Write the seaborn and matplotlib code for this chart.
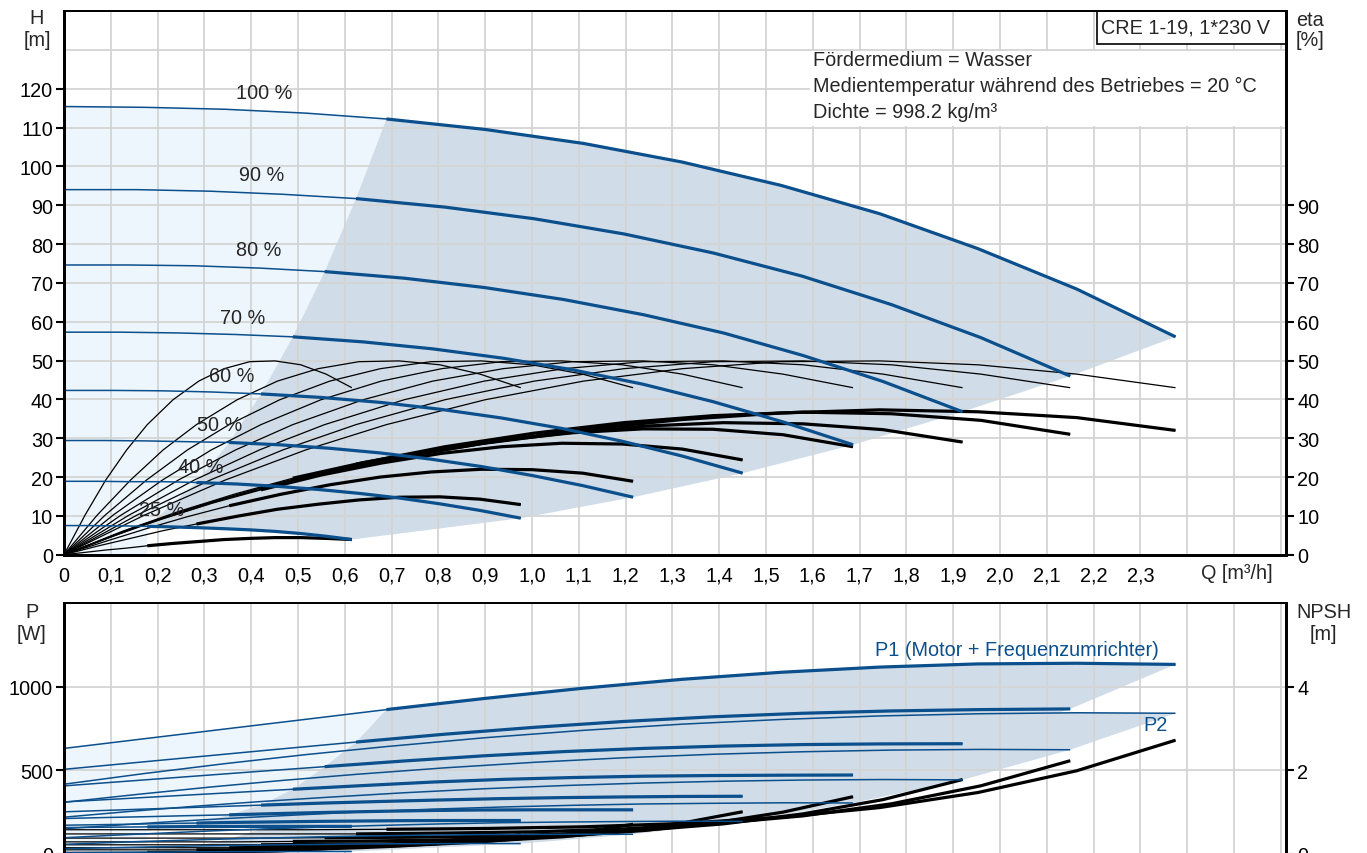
import numpy as np
import pandas as pd
import matplotlib
matplotlib.use('Agg')
import matplotlib.pyplot as plt
import seaborn as sns
from matplotlib.patches import Rectangle

# Drehzahlstufen (Reihenfolge: 100, 90, 80, 70, 60, 50, 40, 25 %)
speed_labels = ['100 %', '90 %', '80 %', '70 %', '60 %', '50 %', '40 %', '25 %']
label_q = [0.427, 0.423, 0.415, 0.382, 0.359, 0.333, 0.291, 0.209]
label_h = [119.0, 97.8, 78.5, 61.1, 46.2, 33.6, 22.8, 11.7]

# Förderstrom Q [m³/h] je Drehzahl
flow = [
    [0, 0.172, 0.344, 0.517, 0.689, 0.900, 1.110, 1.321, 1.532, 1.743, 1.953, 2.164, 2.375],
    [0, 0.156, 0.312, 0.468, 0.624, 0.814, 1.005, 1.196, 1.387, 1.578, 1.768, 1.959, 2.150],
    [0, 0.139, 0.278, 0.418, 0.557, 0.727, 0.898, 1.068, 1.238, 1.409, 1.579, 1.750, 1.920],
    [0, 0.122, 0.244, 0.367, 0.489, 0.639, 0.788, 0.938, 1.087, 1.237, 1.387, 1.536, 1.686],
    [0, 0.105, 0.210, 0.315, 0.421, 0.549, 0.678, 0.807, 0.935, 1.064, 1.193, 1.321, 1.450],
    [0, 0.088, 0.176, 0.264, 0.353, 0.461, 0.568, 0.676, 0.784, 0.892, 1.000, 1.108, 1.216],
    [0, 0.071, 0.142, 0.212, 0.283, 0.370, 0.456, 0.543, 0.630, 0.716, 0.803, 0.889, 0.976],
    [0, 0.045, 0.089, 0.134, 0.178, 0.233, 0.288, 0.342, 0.397, 0.451, 0.506, 0.560, 0.615],
]
# Förderhöhe H [m]
head = [
    [115.4, 115.2, 114.7, 113.7, 112.2, 109.5, 105.9, 101.1, 95.1, 87.8, 78.8, 68.4, 56.1],
    [94.0, 94.0, 93.6, 92.8, 91.7, 89.5, 86.5, 82.6, 77.7, 71.7, 64.4, 55.9, 46.0],
    [74.6, 74.6, 74.4, 73.8, 72.9, 71.2, 68.8, 65.7, 61.8, 57.1, 51.3, 44.6, 36.8],
    [57.3, 57.3, 57.1, 56.7, 56.1, 54.8, 53.0, 50.6, 47.6, 43.9, 39.4, 34.2, 28.3],
    [42.3, 42.3, 42.2, 41.9, 41.4, 40.5, 39.2, 37.4, 35.2, 32.5, 29.2, 25.4, 21.0],
    [29.4, 29.4, 29.3, 29.1, 28.9, 28.3, 27.4, 26.2, 24.6, 22.7, 20.4, 17.8, 14.8],
    [18.9, 18.9, 18.8, 18.8, 18.6, 18.2, 17.6, 16.8, 15.8, 14.6, 13.1, 11.4, 9.4],
    [7.5, 7.5, 7.45, 7.4, 7.3, 7.15, 6.95, 6.7, 6.4, 6.0, 5.45, 4.75, 3.9],
]
# Pumpenwirkungsgrad eta [%] (dünn, schwarz) - gleiche Form für alle Drehzahlen
eta_pump = [0, 10.2, 19.2, 27.0, 33.5, 39.9, 44.7, 47.9, 49.7, 49.9, 48.9, 46.5, 43.0]
# Gesamtwirkungsgrad eta [%] (dick, schwarz)
eta_total = [
    [0, 7.8, 14.4, 19.9, 24.4, 28.8, 32.3, 34.8, 36.5, 37.3, 36.8, 35.3, 32.0],
    [0, 7.3, 13.5, 18.8, 23.3, 27.8, 31.3, 34.0, 35.8, 36.7, 36.3, 34.6, 31.0],
    [0, 6.5, 12.2, 17.1, 21.2, 25.4, 28.7, 31.3, 33.1, 34.0, 33.7, 32.2, 29.0],
    [0, 5.9, 11.1, 15.7, 19.7, 23.7, 26.9, 29.5, 31.4, 32.4, 32.3, 30.9, 27.8],
    [0, 4.8, 9.2, 13.2, 16.7, 20.5, 23.6, 26.1, 27.8, 28.7, 28.5, 27.2, 24.4],
    [0, 3.4, 6.7, 9.8, 12.6, 15.5, 18.0, 20.0, 21.3, 22.0, 21.9, 21.0, 18.9],
    [0, 2.2, 4.2, 6.2, 7.9, 9.9, 11.7, 13.0, 14.1, 14.8, 14.9, 14.3, 12.9],
    [0, 0.6, 1.2, 1.7, 2.3, 2.9, 3.4, 3.9, 4.2, 4.4, 4.4, 4.2, 3.9],
]
# Leistungsaufnahme P1 [W]
power_p1 = [
    [631, 689, 747, 805, 863, 930, 991, 1044, 1086, 1117, 1136, 1140, 1133],
    [506, 547, 588, 629, 669, 716, 757, 792, 820, 841, 855, 863, 867],
    [407, 436, 465, 494, 522, 556, 587, 612, 631, 645, 654, 658, 659],
    [311, 330, 349, 368, 387, 409, 430, 446, 457, 465, 469, 471, 472],
    [252, 262, 272, 282, 292, 304, 314, 323, 331, 337, 341, 344, 345],
    [212, 218, 223, 229, 234, 242, 249, 255, 260, 263, 264, 264, 264],
    [172, 175, 178, 182, 185, 189, 192, 195, 197, 199, 200, 200, 200],
    [158, 159, 160, 161, 162, 163, 164, 164, 165, 165, 165, 165, 165],
]
# Wellenleistung P2 [W]
power_p2 = [
    [417, 481, 540, 594, 642, 695, 739, 776, 804, 825, 838, 844, 841],
    [309, 356, 400, 440, 476, 515, 548, 575, 596, 611, 621, 625, 623],
    [220, 254, 285, 313, 338, 366, 390, 409, 424, 435, 442, 445, 443],
    [151, 174, 196, 215, 232, 252, 268, 281, 291, 299, 303, 306, 305],
    [97, 112, 125, 138, 149, 161, 171, 180, 187, 191, 194, 196, 195],
    [58, 67, 76, 83, 90, 97, 104, 109, 113, 116, 117, 118, 118],
    [31, 36, 40, 44, 48, 51, 55, 57, 60, 61, 62, 63, 62],
    [7, 8, 9, 10, 11, 12, 13, 14, 14, 14, 15, 15, 15],
]
# NPSH [m]
npsh = [
    [0.58, 0.58, 0.58, 0.58, 0.59, 0.61, 0.65, 0.73, 0.88, 1.11, 1.47, 1.99, 2.72],
    [0.48, 0.48, 0.48, 0.48, 0.48, 0.50, 0.53, 0.60, 0.72, 0.91, 1.20, 1.63, 2.23],
    [0.38, 0.38, 0.38, 0.38, 0.39, 0.40, 0.42, 0.48, 0.57, 0.72, 0.96, 1.30, 1.78],
    [0.29, 0.29, 0.29, 0.29, 0.30, 0.31, 0.33, 0.37, 0.44, 0.56, 0.74, 1.00, 1.37],
    [0.22, 0.22, 0.22, 0.22, 0.22, 0.23, 0.24, 0.27, 0.33, 0.41, 0.55, 0.74, 1.01],
    [0.15, 0.15, 0.15, 0.15, 0.15, 0.16, 0.17, 0.19, 0.23, 0.29, 0.39, 0.52, 0.71],
    [0.10, 0.10, 0.10, 0.10, 0.10, 0.10, 0.11, 0.12, 0.15, 0.19, 0.25, 0.34, 0.46],
    [0.04, 0.04, 0.04, 0.04, 0.04, 0.04, 0.04, 0.05, 0.06, 0.07, 0.10, 0.13, 0.18],
]

q_ticks = [round(0.1 * i, 1) for i in range(27)]
q_labels = [('0' if v == 0 else f'{v:.1f}'.replace('.', ',')) if v <= 2.3 else '' for v in q_ticks]

info_lines = ['Fördermedium = Wasser',
              'Medientemperatur während des Betriebes = 20 °C',
              'Dichte = 998.2 kg/m³']

T = 4  # ab diesem Punkt: Arbeitsbereich (dicke Linie)

sns.set_style('white')
plt.rcParams['font.family'] = ['Liberation Sans', 'DejaVu Sans']
FS = 14.3

BLUE = '#0b4f8c'
LIGHT = '#eef6fd'
GRAY = '#d0dce8'
GRID = '#d4d4d4'
THIN, THICK = 1.1, 2.3

fig = plt.figure(figsize=(13.67, 8.54), dpi=100)
ax = fig.add_axes([64 / 1367, (854 - 555.7) / 854, 1222 / 1367, 543.7 / 854])
axr = ax.twinx()
bx = fig.add_axes([64 / 1367, -1 / 854, 1222 / 1367, 251 / 854])
bxr = bx.twinx()

XMAX = 1222 / 468


def line(a, x, y, color, lw, z=3):
    sns.lineplot(x=x, y=y, ax=a, color=color, lw=lw, estimator=None, sort=False, zorder=z,
                 solid_joinstyle='round', solid_capstyle='butt')


def curve(a, x, y, color, lw_thin, lw_thick, z=3):
    line(a, x, y, color, lw_thin, z)
    line(a, x[T:], y[T:], color, lw_thick, z)


def region(vals):
    # Arbeitsbereich: max. Drehzahl oben, Endpunkte rechts, min. Drehzahl unten, Grenze links
    xs = list(flow[0][T:]) + [f[-1] for f in flow[1:]] + list(flow[-1][T:][::-1]) + [f[T] for f in flow[-2:0:-1]]
    ys = list(vals[0][T:]) + [v[-1] for v in vals[1:]] + list(vals[-1][T:][::-1]) + [v[T] for v in vals[-2:0:-1]]
    return xs, ys


def left_region(vals):
    xs = [0] + list(flow[0][:T + 1]) + [f[T] for f in flow[1:]] + [flow[-1][T]]
    ys = [0] + list(vals[0][:T + 1]) + [v[T] for v in vals[1:]] + [0]
    return xs, ys


# ---------- oberes Diagramm: H / eta ----------
for a in (ax, axr):
    a.set_xlim(0, XMAX)
    a.set_ylim(0, 140)

xs, ys = left_region(head)
ax.fill(xs, ys, color=LIGHT, lw=0, zorder=0.2)
xs, ys = region(head)
ax.fill(xs, ys, color=GRAY, lw=0, zorder=0.3)

for v in range(0, 141, 10):
    ax.axhline(v, color=GRID, lw=1.3, zorder=0.5)
for v in q_ticks:
    ax.axvline(v, color=GRID, lw=1.3, zorder=0.5)

ax.add_patch(Rectangle((1.594, 110.3), XMAX - 1.594, 19.4, facecolor='white', edgecolor='none', zorder=0.7))
ax.add_patch(Rectangle((2.207, 131.6), XMAX - 2.207, 8.4, facecolor='white', edgecolor='black', lw=1.2, zorder=0.8))
ax.text(2.216, 136.0, 'CRE 1-19, 1*230 V', fontsize=FS, va='center', ha='left', zorder=5)
for i, txt in enumerate(info_lines):
    ax.text(1.600, 127.4 - 6.7 * i, txt, fontsize=FS, va='center', ha='left', zorder=5)

for i in range(len(flow)):
    line(ax, flow[i], eta_pump, 'black', 0.9, z=3)
    curve(ax, flow[i], eta_total[i], 'black', 0.9, THICK, z=3)
for i in range(len(flow)):
    curve(ax, flow[i], head[i], BLUE, THIN, THICK, z=4)
    ax.text(label_q[i], label_h[i], speed_labels[i], fontsize=FS, ha='center', va='center', zorder=5)

ax.set_xticks(q_ticks)
ax.set_xticklabels(q_labels)
ax.set_yticks(range(0, 121, 10))
axr.set_yticks(range(0, 91, 10))
ax.set_xlabel('')
ax.set_ylabel('')

# ---------- unteres Diagramm: P / NPSH ----------
bx.set_xlim(0, XMAX)
bx.set_ylim(0, 1500)
bxr.set_ylim(0, 6)

xs, ys = left_region(power_p1)
bx.fill(xs, ys, color=LIGHT, lw=0, zorder=0.2)
for vals in (power_p1, power_p2):
    xs, ys = region(vals)
    bx.fill(xs, ys, color=GRAY, lw=0, zorder=0.3)

for v in (0, 500, 1000, 1500):
    bx.axhline(v, color=GRID, lw=1.3, zorder=0.5)
for v in q_ticks:
    bx.axvline(v, color=GRID, lw=1.3, zorder=0.5)

for i in range(len(flow)):
    # NPSH auf der rechten Achse (0..6 m entspricht 0..1500 W)
    npsh_w = [n * 250 for n in npsh[i]]
    curve(bx, flow[i], npsh_w, 'black', 0.9, THICK, z=3)
for i in range(len(flow)):
    line(bx, flow[i], power_p2[i], BLUE, THIN, z=4)
    curve(bx, flow[i], power_p1[i], BLUE, THIN, THICK, z=4)

bx.text(1.733, 1220, 'P1 (Motor + Frequenzumrichter)', color=BLUE, fontsize=FS, ha='left', va='center')
bx.text(2.306, 774, 'P2', color=BLUE, fontsize=FS, ha='left', va='center')

bx.set_xticks(q_ticks)
bx.set_xticklabels([])
bx.set_yticks([0, 500, 1000])
bxr.set_yticks([0, 2, 4])
bx.set_xlabel('')
bx.set_ylabel('')

for a in (ax, axr, bx, bxr):
    a.tick_params(direction='out', length=6, width=1.5, labelsize=FS, pad=2, colors='black')
    for s in ('left', 'right', 'bottom'):
        a.spines[s].set_linewidth(2.0)
        a.spines[s].set_color('black')
    a.spines['top'].set_linewidth(1.3)
    a.spines['top'].set_color('black')

# Achsentitel
fig.text(37 / 1367, 1 - 19 / 854, 'H', fontsize=FS, ha='center', va='center')
fig.text(37 / 1367, 1 - 41 / 854, '[m]', fontsize=FS, ha='center', va='center')
fig.text(1310 / 1367, 1 - 20 / 854, 'eta', fontsize=FS, ha='center', va='center')
fig.text(1310 / 1367, 1 - 41 / 854, '[%]', fontsize=FS, ha='center', va='center')
fig.text(32 / 1367, 1 - 613 / 854, 'P', fontsize=FS, ha='center', va='center')
fig.text(32 / 1367, 1 - 634 / 854, '[W]', fontsize=FS, ha='center', va='center')
fig.text(1324 / 1367, 1 - 613 / 854, 'NPSH', fontsize=FS, ha='center', va='center')
fig.text(1323 / 1367, 1 - 634 / 854, '[m]', fontsize=FS, ha='center', va='center')
fig.text(1237 / 1367, 1 - 574 / 854, 'Q [m³/h]', fontsize=FS, ha='center', va='center')

fig.savefig('out.png', dpi=100)
